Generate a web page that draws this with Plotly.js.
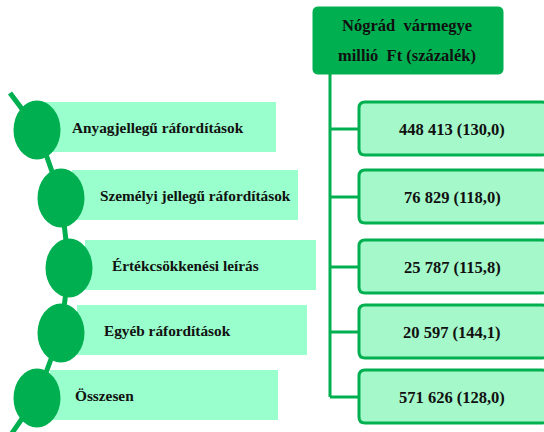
<!DOCTYPE html>
<html>
<head>
<meta charset="utf-8">
<script src="https://cdn.plot.ly/plotly-3.0.1.min.js"></script>
<style>html,body{margin:0;padding:0;background:#fff}#chart{width:544px;height:432px}</style>
</head>
<body>
<div id="chart"></div>
<script>
// ---- data ----
var categories = ["Anyagjellegű ráfordítások", "Személyi jellegű ráfordítások", "Értékcsökkenési leírás", "Egyéb ráfordítások", "Összesen"];
var values = [448413, 76829, 25787, 20597, 571626];
var percents = [130.0, 118.0, 115.8, 144.1, 128.0];
var headerLines = ["Nógrád  vármegye", "millió  Ft (százalék)"];

// ---- layout constants (pixel space) ----
var rowY = [129, 197, 267, 332, 397];
var barX0 = [45, 72, 85, 77, 50];
var barX1 = [276, 298, 316, 307, 278];
var textX = [70, 98, 110, 102, 73];
var circX = [37, 61, 69, 61, 37];
var barH = 50, rx = 23.5, ry = 29.5;
var dark = "#00b050", mint = "#99ffcc", boxFill = "#a4f8c9";
var font = "Liberation Serif, Times New Roman, serif";

function fmt(v) { return String(v).replace(/\B(?=(\d{3})+(?!\d))/g, " "); }
function pct(p) { return p.toFixed(1).replace(".", ","); }
function rrect(x0, y0, x1, y1, r) {
  return "M" + (x0 + r) + "," + y0 + " L" + (x1 - r) + "," + y0 + " Q" + x1 + "," + y0 + " " + x1 + "," + (y0 + r) +
    " L" + x1 + "," + (y1 - r) + " Q" + x1 + "," + y1 + " " + (x1 - r) + "," + y1 +
    " L" + (x0 + r) + "," + y1 + " Q" + x0 + "," + y1 + " " + x0 + "," + (y1 - r) +
    " L" + x0 + "," + (y0 + r) + " Q" + x0 + "," + y0 + " " + (x0 + r) + "," + y0 + " Z";
}

var shapes = [], annotations = [];

// connector chain through circles
var chain = "M10,93";
for (var i = 0; i < rowY.length; i++) chain += " L" + circX[i] + "," + rowY[i];
chain += " L10,436";
shapes.push({type: "path", path: chain, line: {color: dark, width: 5}, layer: "above"});

// label bars
categories.forEach(function (c, i) {
  shapes.push({type: "rect", x0: barX0[i], x1: barX1[i], y0: rowY[i] - barH / 2 - 2, y1: rowY[i] + barH / 2 - 2,
    fillcolor: mint, line: {width: 0}, layer: "above"});
});
// circles + labels
categories.forEach(function (c, i) {
  shapes.push({type: "circle", x0: circX[i] - rx, x1: circX[i] + rx, y0: rowY[i] - ry + 1, y1: rowY[i] + ry + 1,
    fillcolor: dark, line: {width: 0}, layer: "above"});
  annotations.push({x: textX[i], y: rowY[i] - 2, xref: "x", yref: "y", xanchor: "left", yanchor: "middle",
    text: "<b>" + c + "</b>", showarrow: false, font: {family: font, size: 15.3, color: "#111"}});
});

// header box
shapes.push({type: "path", path: rrect(313, 7, 503, 74, 5), fillcolor: dark, line: {color: dark, width: 1}, layer: "above"});
headerLines.forEach(function (t, k) {
  annotations.push({x: 407, y: 25 + k * 30, xref: "x", yref: "y", xanchor: "center", yanchor: "middle",
    text: "<b>" + t + "</b>", showarrow: false, font: {family: font, size: 16.5, color: "#111"}});
});

// tree connectors
shapes.push({type: "path", path: "M330,74 L330," + rowY[rowY.length - 1], line: {color: dark, width: 3}, layer: "above"});
rowY.forEach(function (y) {
  shapes.push({type: "path", path: "M330," + y + " L358," + y, line: {color: dark, width: 3}, layer: "above"});
});

// value boxes
values.forEach(function (v, i) {
  var y = rowY[i];
  shapes.push({type: "path", path: rrect(359, y - 27, 548, y + 26, 6), fillcolor: boxFill, line: {color: dark, width: 3}, layer: "above"});
  annotations.push({x: 452, y: y, xref: "x", yref: "y", xanchor: "center", yanchor: "middle",
    text: "<b>" + fmt(v) + " (" + pct(percents[i]) + ")</b>", showarrow: false, font: {family: font, size: 16.5, color: "#111"}});
});

var layout = {
  width: 544, height: 432,
  margin: {l: 0, r: 0, t: 0, b: 0},
  paper_bgcolor: "#fff", plot_bgcolor: "#fff",
  xaxis: {range: [0, 544], visible: false, fixedrange: true},
  yaxis: {range: [432, 0], visible: false, fixedrange: true},
  showlegend: false,
  shapes: shapes,
  annotations: annotations
};

Plotly.newPlot("chart", [{x: [], y: [], type: "scatter", mode: "markers", hoverinfo: "skip"}], layout, {staticPlot: true});
</script>
</body>
</html>
